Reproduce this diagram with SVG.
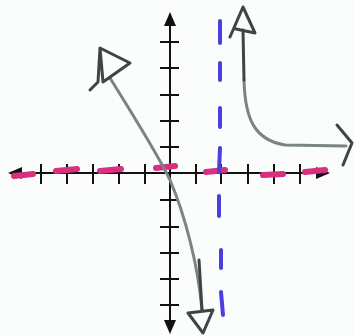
<svg xmlns="http://www.w3.org/2000/svg" width="354" height="335" viewBox="0 0 354 335">
<defs>
<style>
.axis{stroke:#111;stroke-width:2;fill:none}
.tick{stroke:#111;stroke-width:2}
.pink{stroke:#d8307f;stroke-width:6;stroke-linecap:round}
.blue{stroke:#4a3fe0;stroke-width:4;stroke-linecap:round}
.curve{stroke:#7a8482;stroke-width:3;fill:none;stroke-linecap:round;stroke-linejoin:round}
.dark{stroke:#3c4644;stroke-width:3;fill:none;stroke-linecap:round;stroke-linejoin:round}
.head{fill:#111}
</style>
</defs>
<rect width="354" height="335" fill="#fbfdfd"/>
<g id="axes">
<line class="axis" x1="170" y1="20" x2="170" y2="326"/>
<line class="axis" x1="14" y1="173" x2="324" y2="173"/>
<polygon class="head" points="170,12 164,26 176,26"/>
<polygon class="head" points="170,334 164,320 176,320"/>
<polygon class="head" points="8,173 22,167 22,179"/>
<polygon class="head" points="330,173 316,167 316,179"/>
<g id="xticks">
<line class="tick" x1="41" y1="164" x2="41" y2="184"/>
<line class="tick" x1="67" y1="164" x2="67" y2="184"/>
<line class="tick" x1="93" y1="164" x2="93" y2="184"/>
<line class="tick" x1="119" y1="164" x2="119" y2="184"/>
<line class="tick" x1="145" y1="164" x2="145" y2="184"/>
<line class="tick" x1="196" y1="164" x2="196" y2="184"/>
<line class="tick" x1="221" y1="164" x2="221" y2="184"/>
<line class="tick" x1="248" y1="164" x2="248" y2="184"/>
<line class="tick" x1="274" y1="164" x2="274" y2="184"/>
<line class="tick" x1="300" y1="164" x2="300" y2="184"/>
</g>
<g id="yticks">
<line class="tick" x1="160" y1="42" x2="179" y2="42"/>
<line class="tick" x1="160" y1="68" x2="179" y2="68"/>
<line class="tick" x1="160" y1="95" x2="179" y2="95"/>
<line class="tick" x1="160" y1="121" x2="179" y2="121"/>
<line class="tick" x1="160" y1="147" x2="179" y2="147"/>
<line class="tick" x1="160" y1="200" x2="179" y2="200"/>
<line class="tick" x1="160" y1="227" x2="179" y2="227"/>
<line class="tick" x1="160" y1="253" x2="179" y2="253"/>
<line class="tick" x1="160" y1="279" x2="179" y2="279"/>
<line class="tick" x1="160" y1="305" x2="179" y2="305"/>
</g>
</g>
<g id="asymptote-horizontal">
<line class="pink" x1="14" y1="176" x2="33" y2="174"/>
<line class="pink" x1="56" y1="171" x2="77" y2="169"/>
<line class="pink" x1="100" y1="171" x2="121" y2="169"/>
<line class="pink" x1="156" y1="168" x2="175" y2="166"/>
<line class="pink" x1="206" y1="172" x2="225" y2="170"/>
<line class="pink" x1="263" y1="175" x2="283" y2="174"/>
<line class="pink" x1="305" y1="172" x2="325" y2="170"/>
</g>
<g id="asymptote-vertical">
<line class="blue" x1="220" y1="21" x2="220" y2="43"/>
<line class="blue" x1="220" y1="63" x2="220" y2="80"/>
<line class="blue" x1="220" y1="108" x2="220" y2="127"/>
<line class="blue" x1="220" y1="148" x2="219" y2="172"/>
<line class="blue" x1="219" y1="196" x2="219" y2="216"/>
<line class="blue" x1="221" y1="250" x2="221" y2="268"/>
<line class="blue" x1="221" y1="292" x2="223" y2="315"/>
</g>
<g id="left-branch">
<path class="curve" d="M 110 78 C 135 118, 158 155, 170 180 C 185 215, 198 265, 202 310"/>
<path class="dark" d="M 199 260 L 202 310"/>
<path class="dark" d="M 100 48 L 130 63 L 103 82 Z M 100 48 L 98 82 L 90 90"/>
<path class="dark" d="M 203 333 L 188 313 L 213 310 Z"/>
</g>
<g id="right-branch">
<path class="curve" d="M 244 80 C 245 120, 255 140, 285 145 L 346 146"/>
<path class="dark" d="M 243 30 L 244 80"/>
<path class="dark" d="M 243 7 L 230 37 M 243 7 L 255 33 L 236 29"/>
<path class="dark" d="M 337 125 L 352 143 L 343 165"/>
</g>
</svg>
